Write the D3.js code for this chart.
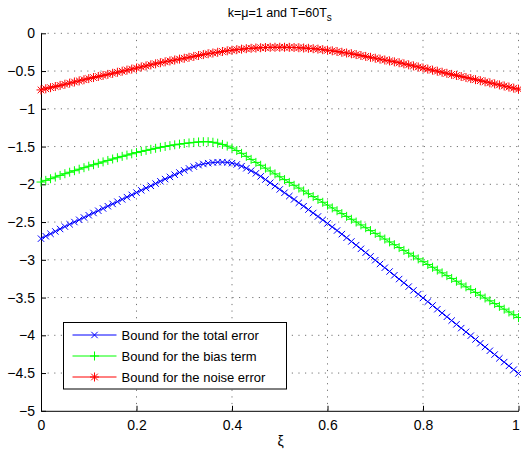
<!DOCTYPE html>
<html>
<head>
  <style>
    body {
      margin: 0;
      background: #fff;
    }
    text {
      font-family: "Liberation Sans", Arial, sans-serif;
      fill: #000;
    }
    .grid line {
      stroke: #000;
      stroke-opacity: .55;
      stroke-width: 1px;
      stroke-dasharray: 1.2, 5.4;
    }
    .axis path, .axis line {
      stroke: #000;
      stroke-width: 1px;
    }
    .series {
      fill: none;
      stroke-width: 1px;
    }
  </style>
</head>
<body>
  <script src="https://d3js.org/d3.v7.min.js"></script>
  <script>
    // xi sampled every 0.01 from 0 to 1
    var xi = d3.range(101).map(function(i) { return i / 100; });

    var totalError = [
      -2.720, -2.688, -2.656, -2.624, -2.592, -2.560, -2.530, -2.500, -2.470, -2.440,
      -2.410, -2.380, -2.350, -2.320, -2.290, -2.260, -2.230, -2.200, -2.170, -2.140,
      -2.110, -2.080, -2.050, -2.020, -1.990, -1.960, -1.931, -1.902, -1.873, -1.844,
      -1.816, -1.790, -1.766, -1.746, -1.731, -1.720, -1.712, -1.707, -1.706, -1.710,
      -1.720, -1.737, -1.760, -1.788, -1.820, -1.855, -1.895, -1.937, -1.980, -2.024,
      -2.068, -2.112, -2.156, -2.200, -2.245, -2.290, -2.335, -2.380, -2.426, -2.472,
      -2.518, -2.565, -2.612, -2.660, -2.708, -2.757, -2.806, -2.855, -2.905, -2.955,
      -3.005, -3.055, -3.105, -3.155, -3.205, -3.255, -3.305, -3.355, -3.405, -3.455,
      -3.505, -3.555, -3.605, -3.655, -3.705, -3.755, -3.805, -3.855, -3.905, -3.955,
      -4.005, -4.055, -4.105, -4.155, -4.205, -4.255, -4.305, -4.355, -4.405, -4.455,
      -4.505
    ];

    var biasTerm = [
      -1.970, -1.948, -1.926, -1.904, -1.882, -1.860, -1.840, -1.820, -1.800, -1.780,
      -1.760, -1.741, -1.722, -1.703, -1.684, -1.665, -1.648, -1.630, -1.613, -1.596,
      -1.580, -1.565, -1.551, -1.537, -1.523, -1.510, -1.499, -1.488, -1.477, -1.468,
      -1.460, -1.452, -1.445, -1.439, -1.436, -1.436, -1.443, -1.455, -1.472, -1.494,
      -1.520, -1.553, -1.590, -1.630, -1.670, -1.710, -1.748, -1.786, -1.824, -1.862,
      -1.900, -1.938, -1.975, -2.013, -2.050, -2.088, -2.125, -2.163, -2.200, -2.238,
      -2.275, -2.313, -2.350, -2.388, -2.425, -2.463, -2.500, -2.538, -2.575, -2.613,
      -2.650, -2.688, -2.725, -2.763, -2.800, -2.838, -2.875, -2.913, -2.950, -2.988,
      -3.025, -3.062, -3.099, -3.136, -3.173, -3.210, -3.247, -3.284, -3.321, -3.358,
      -3.395, -3.432, -3.469, -3.506, -3.543, -3.580, -3.617, -3.654, -3.691, -3.728,
      -3.765
    ];

    var noiseError = [
      -0.750, -0.735, -0.720, -0.705, -0.690, -0.675, -0.660, -0.645, -0.630, -0.615,
      -0.600, -0.586, -0.572, -0.558, -0.544, -0.530, -0.516, -0.502, -0.488, -0.474,
      -0.460, -0.446, -0.432, -0.418, -0.404, -0.390, -0.378, -0.366, -0.354, -0.342,
      -0.330, -0.318, -0.306, -0.294, -0.282, -0.271, -0.261, -0.251, -0.241, -0.232,
      -0.224, -0.217, -0.210, -0.204, -0.199, -0.195, -0.191, -0.188, -0.186, -0.185,
      -0.185, -0.185, -0.186, -0.188, -0.191, -0.195, -0.199, -0.204, -0.210, -0.217,
      -0.224, -0.232, -0.241, -0.251, -0.261, -0.271, -0.282, -0.294, -0.306, -0.318,
      -0.330, -0.342, -0.354, -0.366, -0.378, -0.390, -0.404, -0.418, -0.432, -0.446,
      -0.460, -0.474, -0.488, -0.502, -0.516, -0.530, -0.544, -0.558, -0.572, -0.586,
      -0.600, -0.614, -0.628, -0.642, -0.656, -0.670, -0.684, -0.698, -0.712, -0.726,
      -0.740
    ];

    var xTicks = [0, 0.2, 0.4, 0.6, 0.8, 1];
    var yTicks = [0, -0.5, -1, -1.5, -2, -2.5, -3, -3.5, -4, -4.5, -5];
    var legendLabels = ["Bound for the total error", "Bound for the bias term", "Bound for the noise error"];

    var series = [
      {name: legendLabels[0], values: totalError, color: "#0000ff", marker: "x"},
      {name: legendLabels[1], values: biasTerm, color: "#00ff00", marker: "+"},
      {name: legendLabels[2], values: noiseError, color: "#ff0000", marker: "*"}
    ];

    var width = 521, height = 452;
    var margin = {top: 33.3, right: 2.5, bottom: 41.2, left: 41};
    var w = width - margin.left - margin.right,
        h = height - margin.top - margin.bottom;

    var svg = d3.select("body").append("svg")
        .attr("width", width)
        .attr("height", height);

    var g = svg.append("g")
        .attr("transform", "translate(" + margin.left + "," + margin.top + ")");

    var x = d3.scaleLinear().domain([0, 1]).range([0, w]);
    var y = d3.scaleLinear().domain([-5, 0]).range([h, 0]);

    var fmt = function(d) { return String(d).replace("-", "\u2212"); };

    // dotted grid
    g.append("g").attr("class", "grid")
      .selectAll("line").data(xTicks.slice(1)).enter().append("line")
        .attr("x1", d => x(d)).attr("x2", d => x(d))
        .attr("y1", 0).attr("y2", h);
    g.append("g").attr("class", "grid")
      .selectAll("line").data(yTicks.slice(0, -1)).enter().append("line")
        .attr("x1", 0).attr("x2", w)
        .attr("y1", d => y(d)).attr("y2", d => y(d));

    // axes, ticks pointing inward
    var xAxis = g.append("g").attr("class", "axis")
        .attr("transform", "translate(0," + h + ")")
        .call(d3.axisBottom(x).tickValues(xTicks).tickSizeInner(-5).tickSizeOuter(0).tickPadding(9).tickFormat(fmt));
    xAxis.selectAll("text").attr("font-size", 14);
    // last label sits against the window edge
    xAxis.selectAll(".tick:last-of-type text").attr("text-anchor", "end").attr("dx", "0.05em");

    var yAxis = g.append("g").attr("class", "axis")
        .call(d3.axisLeft(y).tickValues(yTicks).tickSizeInner(-5).tickSizeOuter(0).tickPadding(6).tickFormat(fmt));
    yAxis.selectAll("text").attr("font-size", 14);
    xAxis.select(".domain").attr("stroke", "#000");
    yAxis.select(".domain").attr("stroke", "#000");

    function markerPath(type, cx, cy) {
      var p = d3.path(), s;
      if (type === "x") {
        s = 3.2;
        p.moveTo(cx - s, cy - s); p.lineTo(cx + s, cy + s);
        p.moveTo(cx - s, cy + s); p.lineTo(cx + s, cy - s);
      } else if (type === "+") {
        s = 4.5;
        p.moveTo(cx - s, cy); p.lineTo(cx + s, cy);
        p.moveTo(cx, cy - s); p.lineTo(cx, cy + s);
      } else {
        s = 4.5;
        var d = 3.3;
        p.moveTo(cx - s, cy); p.lineTo(cx + s, cy);
        p.moveTo(cx, cy - s); p.lineTo(cx, cy + s);
        p.moveTo(cx - d, cy - d); p.lineTo(cx + d, cy + d);
        p.moveTo(cx - d, cy + d); p.lineTo(cx + d, cy - d);
      }
      return p.toString();
    }

    var line = d3.line()
        .x((d, i) => x(xi[i]))
        .y(d => y(d));

    var plot = g.selectAll(".plot").data(series).enter().append("g")
        .attr("class", "plot");

    plot.append("path")
        .attr("class", "series")
        .attr("stroke", d => d.color)
        .attr("d", d => line(d.values));

    plot.append("path")
        .attr("fill", "none")
        .attr("stroke", d => d.color)
        .attr("stroke-width", 1)
        .attr("d", function(d) {
          return d.values.map((v, i) => markerPath(d.marker, x(xi[i]), y(v))).join("");
        });

    // title
    var title = svg.append("text")
        .attr("x", margin.left + w / 2)
        .attr("y", 17)
        .attr("text-anchor", "middle")
        .attr("font-size", 12.5);
    title.append("tspan").text("k=\u03bc=1 and T=60T");
    title.append("tspan").attr("dy", 4).attr("font-size", 10).text("s");

    // x label
    svg.append("text")
        .attr("x", margin.left + w / 2 + 1)
        .attr("y", 446)
        .attr("text-anchor", "middle")
        .attr("font-size", 14)
        .text("\u03be");

    // legend
    var legend = svg.append("g")
        .attr("transform", "translate(63.5,322.5)");
    legend.append("rect")
        .attr("width", 223)
        .attr("height", 66.5)
        .attr("fill", "#fff")
        .attr("stroke", "#000")
        .attr("stroke-width", 1);

    var item = legend.selectAll(".item").data(series).enter().append("g")
        .attr("class", "item")
        .attr("transform", (d, i) => "translate(0," + (12.5 + i * 21) + ")");
    item.append("line")
        .attr("x1", 9).attr("x2", 53)
        .attr("stroke", d => d.color);
    item.append("path")
        .attr("fill", "none")
        .attr("stroke", d => d.color)
        .attr("d", d => markerPath(d.marker, 31, 0));
    item.append("text")
        .attr("x", 58)
        .attr("dy", "0.35em")
        .attr("font-size", 13)
        .text(d => d.name);
  </script>
</body>
</html>
